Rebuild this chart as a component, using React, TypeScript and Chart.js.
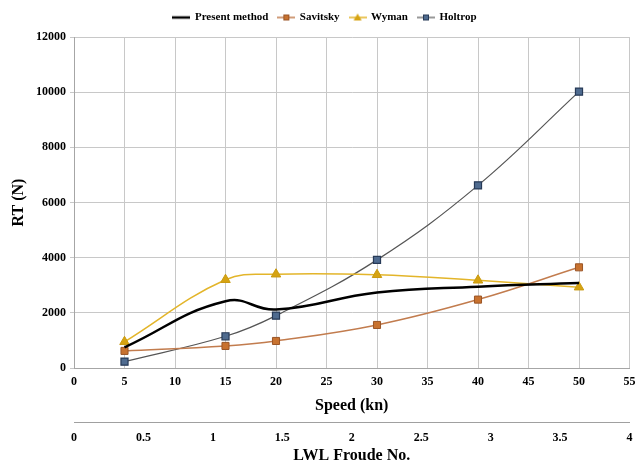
import React, { useEffect, useRef } from "react";
import { Chart, registerables } from "chart.js";

Chart.register(...registerables);

const speeds = [5, 15, 20, 30, 40, 50];
const presentMethod = [750, 2420, 2120, 2740, 2950, 3080];
const savitsky = [620, 800, 980, 1560, 2480, 3650];
const wyman = [950, 3200, 3400, 3380, 3180, 2930];
const holtrop = [230, 1150, 1900, 3920, 6620, 10020];

const seriesNames = ["Present method", "Savitsky", "Wyman", "Holtrop"];
const yTicks = [0, 2000, 4000, 6000, 8000, 10000, 12000];
const speedTicks = [0, 5, 10, 15, 20, 25, 30, 35, 40, 45, 50, 55];
const froudeTicks = [0, 0.5, 1, 1.5, 2, 2.5, 3, 3.5, 4];

const FONT = "'Liberation Serif', 'Times New Roman', serif";

function legendImage(
  lineColor: string,
  lineWidth: number,
  marker: string | null,
  fill: string,
  stroke: string
) {
  const c = document.createElement("canvas");
  c.width = 18;
  c.height = 10;
  const ctx = c.getContext("2d")!;
  ctx.strokeStyle = lineColor;
  ctx.lineWidth = lineWidth;
  ctx.beginPath();
  ctx.moveTo(0, 5);
  ctx.lineTo(18, 5);
  ctx.stroke();
  ctx.fillStyle = fill;
  ctx.strokeStyle = stroke;
  ctx.lineWidth = 1;
  if (marker === "rect") {
    ctx.fillRect(6, 2, 6, 6);
    ctx.strokeRect(6.5, 2.5, 5, 5);
  } else if (marker === "triangle") {
    ctx.beginPath();
    ctx.moveTo(9, 1);
    ctx.lineTo(13, 8);
    ctx.lineTo(5, 8);
    ctx.closePath();
    ctx.fill();
  }
  return c;
}

const toPoints = (ys: number[]) => speeds.map((x, i) => ({ x, y: ys[i] }));

export default function App() {
  const ref = useRef<HTMLCanvasElement>(null);

  useEffect(() => {
    if (!ref.current) return;
    const imgs = [
      legendImage("#000000", 2.5, null, "#000", "#000"),
      legendImage("#c27c4e", 1.5, "rect", "#c8722f", "#9a5526"),
      legendImage("#e3b52a", 1.5, "triangle", "#d6a312", "#b8890c"),
      legendImage("#555555", 1.2, "rect", "#4f6b8f", "#273a57"),
    ];

    const legendPad = {
      id: "legendPad",
      beforeInit(chart: any) {
        const lg = chart.legend;
        if (lg) {
          const orig = lg.fit;
          lg.fit = function () {
            orig.call(this);
            this.height += 4;
          };
        }
      },
      afterLayout(chart: any) {
        if (chart.legend) chart.legend.left += 14;
      },
    };

    const chart = new Chart(ref.current, {
      type: "line",
      data: {
        datasets: [
          {
            label: seriesNames[0],
            data: toPoints(presentMethod),
            borderColor: "#000000",
            backgroundColor: "#000000",
            borderWidth: 2.5,
            pointRadius: 0,
            tension: 0.45,
          },
          {
            label: seriesNames[1],
            data: toPoints(savitsky),
            borderColor: "#c27c4e",
            backgroundColor: "#c8722f",
            pointBorderColor: "#9a5526",
            pointBackgroundColor: "#c8722f",
            borderWidth: 1.5,
            pointStyle: "rect",
            pointRadius: 5,
            pointBorderWidth: 1,
            tension: 0.4,
          },
          {
            label: seriesNames[2],
            data: toPoints(wyman),
            borderColor: "#e3b52a",
            backgroundColor: "#d6a312",
            pointBorderColor: "#c99a10",
            pointBackgroundColor: "#d6a312",
            borderWidth: 1.5,
            pointStyle: "triangle",
            pointRadius: 5.5,
            pointBorderWidth: 1,
            tension: 0.4,
          },
          {
            label: seriesNames[3],
            data: toPoints(holtrop),
            borderColor: "#555555",
            backgroundColor: "#4f6b8f",
            pointBorderColor: "#273a57",
            pointBackgroundColor: "#4f6b8f",
            borderWidth: 1.2,
            pointStyle: "rect",
            pointRadius: 5,
            pointBorderWidth: 1.2,
            tension: 0.4,
          },
        ],
      },
      options: {
        animation: false,
        responsive: true,
        maintainAspectRatio: false,
        layout: { padding: { left: 0, right: 0, top: 2, bottom: 0 } },
        plugins: {
          tooltip: { enabled: false },
          legend: {
            position: "top",
            labels: {
              color: "#000",
              font: { family: FONT, size: 11, weight: "bold" },
              usePointStyle: true,
              pointStyleWidth: 16,
              padding: 10,
              generateLabels(c: any) {
                const items = (Chart.defaults.plugins.legend.labels as any).generateLabels(c);
                items.forEach((it: any, i: number) => {
                  it.pointStyle = imgs[i];
                });
                return items;
              },
            },
          },
        },
        scales: {
          x: {
            type: "linear",
            position: "bottom",
            min: 0,
            max: 55,
            weight: 0,
            afterBuildTicks(scale: any) {
              scale.ticks = speedTicks.map((v) => ({ value: v }));
            },
            afterFit(scale: any) {
              scale.height = 54;
            },
            ticks: {
              color: "#000",
              font: { family: FONT, size: 12, weight: "bold" },
              padding: 0,
              maxRotation: 0,
              autoSkip: false,
              callback: (v: any) => String(v),
            },
            grid: {
              color: "#c8c8c8",
              lineWidth: 1,
              drawTicks: true,
              tickLength: 7,
              tickColor: "rgba(0,0,0,0)",
            },
            border: { color: "#a6a6a6" },
            title: {
              display: true,
              text: "Speed (kn)",
              color: "#000",
              font: { family: FONT, size: 16, weight: "bold" },
              padding: { top: 0, bottom: 7 },
            },
          },
          x2: {
            type: "linear",
            position: "bottom",
            min: 0,
            max: 4,
            weight: 1,
            afterBuildTicks(scale: any) {
              scale.ticks = froudeTicks.map((v) => ({ value: v }));
            },
            afterFit(scale: any) {
              scale.height = 45;
            },
            ticks: {
              color: "#000",
              font: { family: FONT, size: 12, weight: "bold" },
              padding: 0,
              maxRotation: 0,
              autoSkip: false,
              callback: (v: any) => String(v),
            },
            grid: {
              drawOnChartArea: false,
              color: "#a0a0a0",
              tickLength: 9,
              tickColor: "rgba(0,0,0,0)",
            },
            border: { color: "#a0a0a0" },
            title: {
              display: true,
              text: "LWL Froude No.",
              color: "#000",
              font: { family: FONT, size: 16, weight: "bold" },
              padding: { top: 0, bottom: 2 },
            },
          },
          y: {
            type: "linear",
            min: 0,
            max: 12000,
            afterBuildTicks(scale: any) {
              scale.ticks = yTicks.map((v) => ({ value: v }));
            },
            afterFit(scale: any) {
              scale.width = 74;
            },
            ticks: {
              color: "#000",
              font: { family: FONT, size: 12, weight: "bold" },
              padding: 4,
              callback: (v: any) => String(v),
            },
            grid: { color: "#c8c8c8", lineWidth: 1, tickLength: 4 },
            border: { color: "#a6a6a6" },
            title: {
              display: true,
              text: "RT (N)",
              color: "#000",
              font: { family: FONT, size: 16, weight: "bold" },
              padding: { top: 9, bottom: 0 },
            },
          },
        },
      } as any,
      plugins: [legendPad],
    });
    return () => chart.destroy();
  }, []);

  return (
    <div style={{ position: "absolute", left: 0, top: 0, width: 636, height: 467, background: "#fff" }}>
      <canvas ref={ref} />
    </div>
  );
}
